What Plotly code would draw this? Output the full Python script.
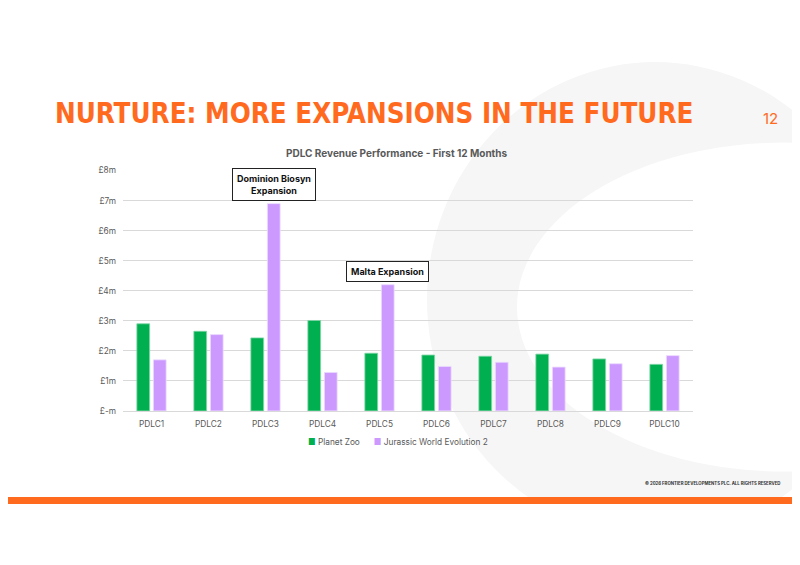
import plotly.graph_objects as go

# Data (values in £m)
pdlcs = ["PDLC1", "PDLC2", "PDLC3", "PDLC4", "PDLC5",
         "PDLC6", "PDLC7", "PDLC8", "PDLC9", "PDLC10"]
planet_zoo = [2.90, 2.65, 2.43, 3.01, 1.92, 1.86, 1.82, 1.89, 1.73, 1.55]
jwe2 = [1.70, 2.54, 6.90, 1.28, 4.20, 1.48, 1.62, 1.46, 1.57, 1.84]
y_ticks = [0, 1, 2, 3, 4, 5, 6, 7, 8]
y_tick_labels = ["£-m", "£1m", "£2m", "£3m", "£4m", "£5m", "£6m", "£7m", "£8m"]
series_names = ["Planet Zoo", "Jurassic World Evolution 2"]
callouts = [("PDLC3", "Dominion Biosyn<br>Expansion"), ("PDLC5", "Malta Expansion")]

# page has an 8px body margin, so the figure is a bit smaller than the window
OFF = 8
W, H = 800 - 2 * OFF, 565 - 2 * OFF
orange = "#FF6A1F"
green = "#00B050"
purple = "#CC99FF"
grey_txt = "#595959"


def px(x):
    # slide pixel -> paper fraction
    return (x - OFF) / W


def py(y):
    return 1 - (y - OFF) / H


fig = go.Figure()
fig.add_trace(go.Bar(x=pdlcs, y=planet_zoo, name=series_names[0],
                     marker=dict(color=green, line=dict(color="#7fd6a6", width=0.8))))
fig.add_trace(go.Bar(x=pdlcs, y=jwe2, name=series_names[1],
                     marker=dict(color=purple, line=dict(color="#ecdcff", width=0.8))))

# callout boxes over the JWE2 bars
for cat, txt in callouts:
    val = jwe2[pdlcs.index(cat)]
    fig.add_annotation(x=cat, y=val, xref="x", yref="y", text=f"<b>{txt}</b>",
                       showarrow=False, xshift=8, yshift=3, yanchor="bottom",
                       font=dict(family="Inter", size=9, color="#111111"),
                       bordercolor="#222222", borderwidth=1, borderpad=4,
                       bgcolor="white")

shapes = [
    # faint background logo ring
    dict(type="circle", xref="paper", yref="paper", layer="below",
         x0=px(427), x1=px(883), y0=py(58), y1=py(542),
         fillcolor="#F6F6F6", line=dict(width=0)),
    dict(type="circle", xref="paper", yref="paper", layer="below",
         x0=px(517), x1=px(1051), y0=py(140), y1=py(475),
         fillcolor="white", line=dict(width=0)),
    dict(type="rect", xref="paper", yref="paper", layer="between",
         x0=0, x1=1, y0=0, y1=py(508), fillcolor="white", line=dict(width=0)),
    # orange footer bar
    dict(type="rect", xref="paper", yref="paper", layer="above",
         x0=0, x1=1, y0=py(508), y1=py(501), fillcolor=orange, line=dict(width=0)),
]

legend_txt = (f"<span style='color:{green}'>■</span> {series_names[0]}"
              f"      <span style='color:{purple}'>■</span> {series_names[1]}")

annotations = [
    dict(text="<b>NURTURE: MORE EXPANSIONS IN THE FUTURE</b>", x=px(53), y=py(110),
         xanchor="left", yanchor="middle",
         font=dict(family="DejaVu Sans Condensed", size=27.5, color=orange)),
    dict(text="12", x=px(770), y=py(115), xanchor="center", yanchor="middle",
         font=dict(family="Inter", size=15, color=orange)),
    dict(text="<b>PDLC Revenue Performance - First 12 Months</b>", x=px(397), y=py(151),
         xanchor="center", yanchor="middle",
         font=dict(family="Inter", size=10, color=grey_txt)),
    dict(text=legend_txt, x=px(398), y=py(445), xanchor="center", yanchor="middle",
         font=dict(family="Inter", size=8.3, color=grey_txt)),
    dict(text="<b>© 2026 FRONTIER DEVELOPMENTS PLC. ALL RIGHTS RESERVED</b>",
         x=px(782), y=py(487), xanchor="right", yanchor="middle",
         font=dict(family="Inter", size=4.3, color="#333333")),
]
for a in annotations:
    fig.add_annotation(xref="paper", yref="paper", showarrow=False, **a)

fig.update_layout(
    width=W, height=H,
    margin=dict(l=0, r=0, t=0, b=0),
    paper_bgcolor="white", plot_bgcolor="rgba(0,0,0,0)",
    font=dict(family="Inter", size=8.3, color=grey_txt),
    barmode="group", bargap=0.42, bargroupgap=0.23,
    shapes=shapes,
    showlegend=False,
    xaxis=dict(domain=[px(123), px(693)], showline=True, linecolor="#D9D9D9", linewidth=1,
               ticks="", showgrid=False, ticklabelstandoff=5,
               tickfont=dict(size=8.3, color=grey_txt)),
    yaxis=dict(domain=[py(413.3), py(168.5)], range=[0, 8], tickvals=y_ticks,
               ticktext=y_tick_labels, showgrid=True, gridcolor="#D9D9D9", gridwidth=1,
               zeroline=False, ticks="", ticklabelstandoff=6,
               tickfont=dict(size=8.3, color=grey_txt)),
)

fig.write_html("out.html")
